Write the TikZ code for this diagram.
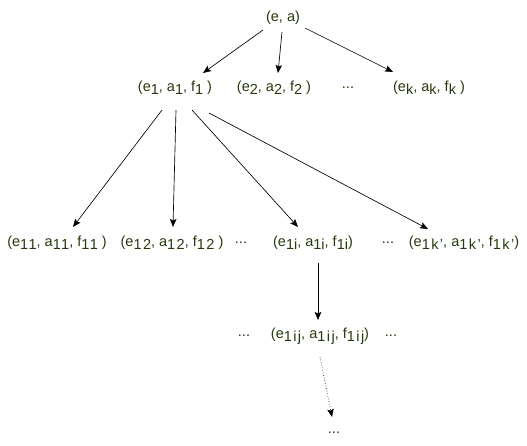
\documentclass[tikz,border=0pt]{standalone}
\usepackage{fontspec}
\setmainfont{Liberation Sans}
\newfontfamily\subwidefont[LetterSpace=10]{Liberation Sans}
\usepackage{xcolor}
\usetikzlibrary{arrows.meta}

\definecolor{labelgreen}{RGB}{40,56,14}
\newcommand{\sub}[1]{\raisebox{-0.45ex}{\fontsize{14.5}{14.5}\selectfont #1}}
\newcommand{\subw}[1]{\raisebox{-0.45ex}{\subwidefont\fontsize{14.5}{14.5}\selectfont #1}}

\begin{document}
\begin{tikzpicture}[x=1pt, y=-1pt,
    every node/.style={text=labelgreen, font=\fontsize{14.5}{16}\selectfont, inner sep=0pt},
    arr/.style={-{Stealth[length=8pt, width=6.5pt, inset=1.5pt]}, line width=0.65pt}]
    \useasboundingbox (0,0) rectangle (527,445);

    % Root
    \node (root) at (283,18) {(e, a)};

    % First level
    \node (e1) at (175,88) {(e\sub{1}, a\sub{1}, f\sub{1} )};
    \node (e2) at (274,88) {(e\sub{2}, a\sub{2}, f\sub{2} )};
    \node (dotsA) at (348,88) {...};
    \node (ek) at (429,88) {(e\sub{k}, a\sub{k}, f\sub{k} )};

    % Second level
    \node (e11) at (57,243) {(e\subw{11}, a\subw{11}, f\subw{11} )};
    \node (e12) at (172,243) {(e\subw{12}, a\subw{12}, f\subw{12} )};
    \node (dotsB) at (241,243) {...};
    \node (e1i) at (313,243) {(e\sub{1i}, a\sub{1i}, f\sub{1i})};
    \node (dotsC) at (388,243) {...};
    \node (e1k) at (464,243) {(e\subw{1k’}, a\subw{1k’}, f\subw{1k’})};

    % Third level
    \node (dotsD) at (244,336) {...};
    \node (e1ij) at (320,336) {(e\subw{1ij}, a\subw{1ij}, f\subw{1ij})};
    \node (dotsE) at (391,336) {...};
    \node (dotsF) at (334,433) {...};

    % Arrows
    \draw[arr] ([xshift=-20pt, yshift=-12pt]root.center) -- ([xshift=28pt, yshift=15pt]e1.center);
    \draw[arr] ([xshift=-1pt, yshift=-14pt]root.center) -- ([xshift=4pt, yshift=15pt]e2.center);
    \draw[arr] ([xshift=22pt, yshift=-10pt]root.center) -- ([xshift=-36pt, yshift=16pt]ek.center);

    \draw[arr] ([xshift=-13pt, yshift=-22pt]e1.center) -- ([xshift=16pt, yshift=16pt]e11.center);
    \draw[arr] ([xshift=1pt, yshift=-22pt]e1.center) -- ([xshift=1pt, yshift=16pt]e12.center);
    \draw[arr] ([xshift=17pt, yshift=-22pt]e1.center) -- ([xshift=-15pt, yshift=16pt]e1i.center);
    \draw[arr] ([xshift=34pt, yshift=-25pt]e1.center) -- ([xshift=-36pt, yshift=14pt]e1k.center);

    \draw[arr] ([xshift=5pt, yshift=-20pt]e1i.center) -- ([xshift=-2pt, yshift=16pt]e1ij.center);
    \draw[arr, dotted] ([yshift=-21pt]e1ij.center) -- ([xshift=-2pt, yshift=16pt]dotsF.center);
\end{tikzpicture}
\end{document}
